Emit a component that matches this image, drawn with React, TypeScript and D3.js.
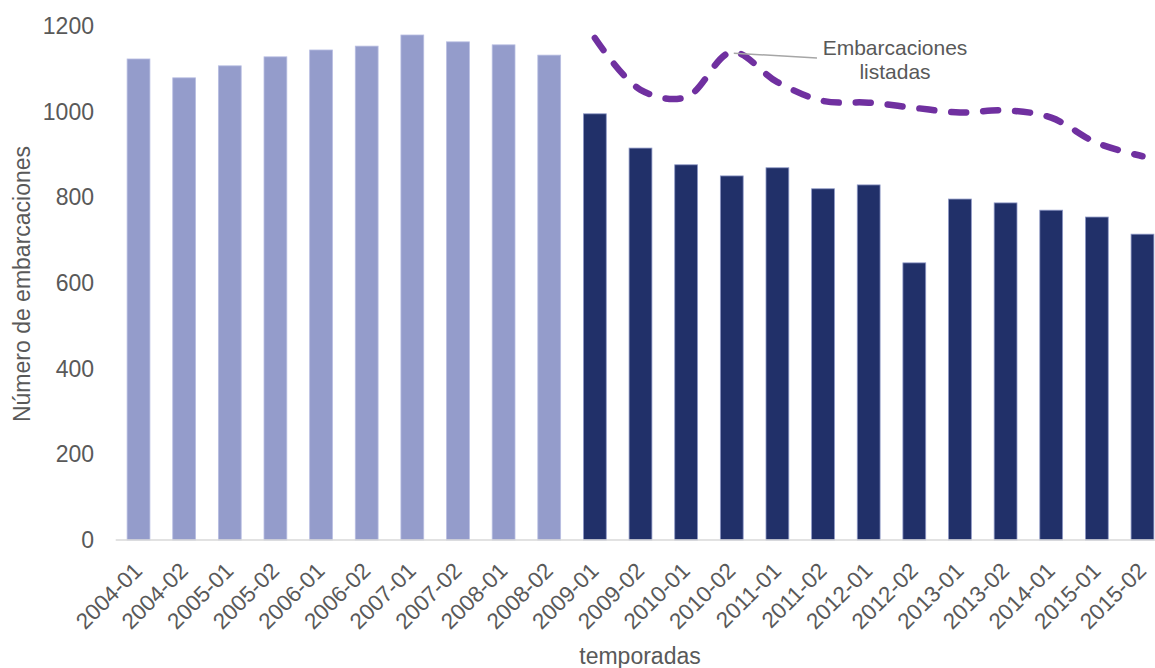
import React from "react";
import * as d3 from "d3";

const categories = [
  "2004-01", "2004-02", "2005-01", "2005-02", "2006-01", "2006-02", "2007-01", "2007-02",
  "2008-01", "2008-02", "2009-01", "2009-02", "2010-01", "2010-02", "2011-01", "2011-02",
  "2012-01", "2012-02", "2013-01", "2013-02", "2014-01", "2015-01", "2015-02",
];
const barValues = [
  1123, 1079, 1107, 1128, 1144, 1153, 1179, 1163, 1156, 1132, 995, 915, 876, 850, 869, 820,
  829, 647, 796, 787, 770, 754, 714,
];
const lightCount = 10;
const lineCategories = [
  "2009-01", "2009-02", "2010-01", "2010-02", "2011-01", "2011-02", "2012-01", "2012-02",
  "2013-01", "2013-02", "2014-01", "2015-01", "2015-02",
];
const lineValues = [1172, 1051, 1034, 1139, 1069, 1025, 1021, 1009, 998, 1003, 986, 927, 896];
const yTicks = [0, 200, 400, 600, 800, 1000, 1200];

const W = 1155;
const H = 668;
const plot = { left: 115.7, right: 1165.3, top: 26, bottom: 540 };
const textColor = "#595959";
const font = "'Liberation Sans', Arial, sans-serif";

export default function App() {
  const x = d3
    .scaleBand<string>()
    .domain(categories)
    .range([plot.left, plot.right])
    .paddingInner(0.5)
    .paddingOuter(0.25);
  const y = d3.scaleLinear().domain([0, 1200]).range([plot.bottom, plot.top]);
  const cx = (c: string) => (x(c) as number) + x.bandwidth() / 2;

  const line = d3
    .line<number>()
    .x((_, i) => cx(lineCategories[i]))
    .y((v) => y(v))
    .curve(d3.curveCatmullRom.alpha(0.5));

  const annX = cx("2010-02");
  const annY = y(lineValues[3]);

  return (
    <svg
      width={W}
      height={H}
      style={{ position: "absolute", left: 0, top: 0, background: "#fff" }}
      fontFamily={font}
    >
      {categories.map((c, i) => (
        <rect
          key={c}
          x={x(c)}
          y={y(barValues[i])}
          width={x.bandwidth()}
          height={y(0) - y(barValues[i])}
          fill={i < lightCount ? "#949CCB" : "#213069"}
          stroke={i < lightCount ? "#B8BEE2" : "#8E98C6"}
          strokeWidth={0.8}
        />
      ))}
      <line x1={plot.left} x2={W} y1={y(0)} y2={y(0)} stroke="#D9D9D9" strokeWidth={1.5} />
      {yTicks.map((t) => (
        <text
          key={t}
          x={94}
          y={y(t)}
          dy="0.35em"
          textAnchor="end"
          fontSize={23}
          fill={textColor}
        >
          {t}
        </text>
      ))}
      {categories.map((c) => (
        <text
          key={c}
          transform={`translate(${cx(c) - 6},${plot.bottom + 21}) rotate(-45)`}
          textAnchor="end"
          dy="0.7em"
          fontSize={22.5}
          fill={textColor}
        >
          {c}
        </text>
      ))}
      <path
        d={line(lineValues) || ""}
        fill="none"
        stroke="#7030A0"
        strokeWidth={6.5}
        strokeDasharray="15 17"
        strokeLinecap="round"
      />
      <line x1={annX + 2} y1={annY + 1} x2={817} y2={58} stroke="#A6A6A6" strokeWidth={1.5} />
      <text x={895} y={48} dy="0.35em" textAnchor="middle" fontSize={21} fill={textColor}>
        Embarcaciones
      </text>
      <text x={895} y={72} dy="0.35em" textAnchor="middle" fontSize={21} fill={textColor}>
        listadas
      </text>
      <text x={640} y={664} textAnchor="middle" fontSize={23} fill={textColor}>
        temporadas
      </text>
      <text
        transform={`translate(30,284) rotate(-90)`}
        textAnchor="middle"
        fontSize={23}
        fill={textColor}
      >
        Número de embarcaciones
      </text>
    </svg>
  );
}
